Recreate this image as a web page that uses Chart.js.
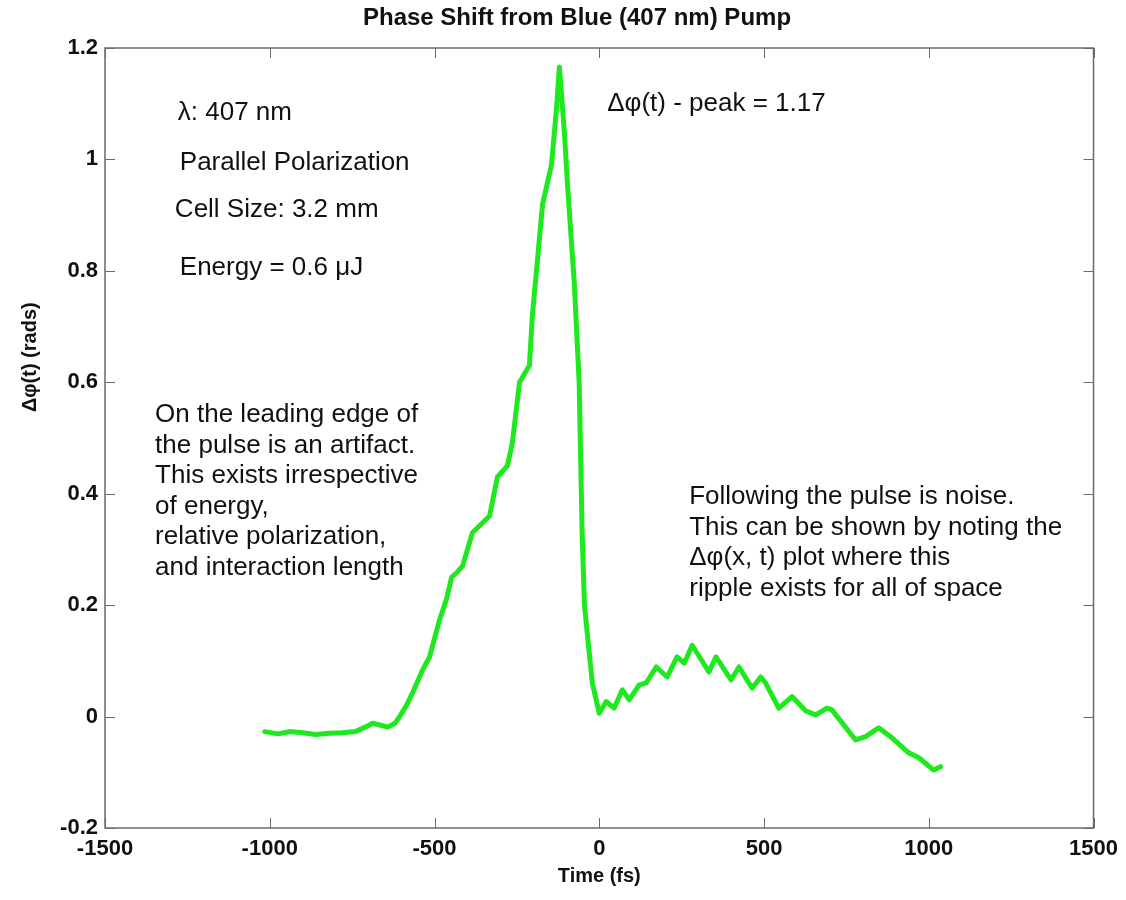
<!DOCTYPE html>
<html>
<head>
<meta charset="utf-8">
<script src="https://cdn.jsdelivr.net/npm/chart.js@4/dist/chart.umd.min.js"></script>
<style>
  html, body { margin: 0; background: #fff; }
  canvas { display: block; }
</style>
</head>
<body>
<canvas id="phaseChart" width="1126" height="900"></canvas>
<script>
const timeFs = [
  -1015, -975, -940, -900, -860, -820, -780, -740, -700, -688, -660, -642, -620, -606,
  -585, -567, -536, -515, -485, -464, -448, -430, -415, -385, -333, -309, -279, -264,
  -242, -212, -203, -172, -145, -130, -121, -106, -97, -76, -61, -52, -45, -21,
  0, 21, 45, 70, 91, 121, 142, 173, 206, 236, 258, 282, 333, 354, 400, 424, 464, 490,
  505, 545, 585, 627, 657, 691, 706, 778, 808, 848, 884, 939, 970, 1015, 1036
];
const phaseRad = [
  -0.027, -0.031, -0.027, -0.029, -0.032, -0.030, -0.029, -0.027, -0.016, -0.012, -0.016, -0.019, -0.012, 0.0,
  0.02, 0.042, 0.084, 0.107, 0.173, 0.21, 0.25, 0.26, 0.27, 0.33, 0.36, 0.43, 0.45, 0.49,
  0.60, 0.63, 0.72, 0.92, 0.99, 1.09, 1.166, 1.05, 0.96, 0.78, 0.60, 0.33, 0.20, 0.06,
  0.006, 0.027, 0.015, 0.048, 0.03, 0.057, 0.06, 0.089, 0.071, 0.107, 0.096, 0.128, 0.08, 0.107, 0.066, 0.089, 0.051, 0.071,
  0.06, 0.015, 0.036, 0.01, 0.003, 0.015, 0.012, -0.042, -0.036, -0.02, -0.036, -0.065, -0.074, -0.096, -0.09
];
const xTicks = [-1500, -1000, -500, 0, 500, 1000, 1500];
const yTicks = [-0.2, 0, 0.2, 0.4, 0.6, 0.8, 1, 1.2];

const titleText = "Phase Shift from Blue (407 nm) Pump";
const xTitle = "Time (fs)";
const yTitle = "\u0394\u03c6(t) (rads)";

// text blocks, anchored in data coordinates (fs, rad)
const notes = [
  { x: -1279, y: 1.084, lines: ["\u03bb: 407 nm"] },
  { x: -1273, y: 0.994, lines: ["Parallel Polarization"] },
  { x: -1288, y: 0.909, lines: ["Cell Size: 3.2 mm"] },
  { x: -1273, y: 0.805, lines: ["Energy = 0.6 \u03bcJ"] },
  { x: 24, y: 1.100, lines: ["\u0394\u03c6(t) - peak = 1.17"] },
  { x: -1348, y: 0.541, lines: [
    "On the leading edge of",
    "the pulse is an artifact.",
    "This exists irrespective",
    "of energy,",
    "relative polarization,",
    "and interaction length"
  ] },
  { x: 273, y: 0.394, lines: [
    "Following the pulse is noise.",
    "This can be shown by noting the",
    "\u0394\u03c6(x, t) plot where this",
    "ripple exists for all of space"
  ] }
];

const FONT = "'Liberation Sans', Arial, sans-serif";
const AXIS_COLOR = "#6a6a6a";

const frameAndNotes = {
  id: "frameAndNotes",
  afterDatasetsDraw(chart) {
    const { ctx, chartArea: a, scales } = chart;
    ctx.save();
    ctx.strokeStyle = AXIS_COLOR;
    ctx.lineWidth = 1.5;
    ctx.strokeRect(a.left, a.top, a.right - a.left, a.bottom - a.top);
    // inward ticks on all four sides
    ctx.lineWidth = 1;
    const len = 10;
    ctx.beginPath();
    xTicks.forEach((v) => {
      const px = Math.round(scales.x.getPixelForValue(v)) + 0.5;
      ctx.moveTo(px, a.bottom); ctx.lineTo(px, a.bottom - len);
      ctx.moveTo(px, a.top); ctx.lineTo(px, a.top + len);
    });
    yTicks.forEach((v) => {
      const py = Math.round(scales.y.getPixelForValue(v)) + 0.5;
      ctx.moveTo(a.left, py); ctx.lineTo(a.left + len, py);
      ctx.moveTo(a.right, py); ctx.lineTo(a.right - len, py);
    });
    ctx.stroke();

    ctx.fillStyle = "#111";
    ctx.textBaseline = "middle";

    // title and y label (MATLAB puts them a bit off-centre here)
    ctx.textAlign = "center";
    ctx.font = `bold 24px ${FONT}`;
    ctx.fillText(titleText, 577, 18);
    ctx.save();
    ctx.translate(30, scales.y.getPixelForValue(0.645));
    ctx.rotate(-Math.PI / 2);
    ctx.font = `bold 20px ${FONT}`;
    ctx.fillText(yTitle, 0, 0);
    ctx.restore();

    ctx.font = `26px ${FONT}`;
    ctx.textAlign = "left";
    notes.forEach((n) => {
      const px = scales.x.getPixelForValue(n.x);
      const py = scales.y.getPixelForValue(n.y);
      n.lines.forEach((line, i) => ctx.fillText(line, px, py + i * 30.5));
    });
    ctx.restore();
  }
};

new Chart(document.getElementById("phaseChart"), {
  type: "line",
  data: {
    datasets: [{
      data: timeFs.map((t, i) => ({ x: t, y: phaseRad[i] })),
      borderColor: "#1ee81e",
      borderWidth: 5,
      pointRadius: 0,
      tension: 0,
      borderJoinStyle: "round",
      borderCapStyle: "round",
      fill: false
    }]
  },
  options: {
    responsive: false,
    animation: false,
    devicePixelRatio: 1,
    layout: { padding: { left: 0, right: 31, top: 48, bottom: 0 } },
    plugins: {
      legend: { display: false },
      tooltip: { enabled: false },
      title: { display: false }
    },
    scales: {
      x: {
        type: "linear",
        min: -1500,
        max: 1500,
        afterBuildTicks: (s) => { s.ticks = xTicks.map((v) => ({ value: v })); },
        afterFit: (s) => { s.height = 72; },
        grid: { display: false, drawTicks: false },
        border: { display: false },
        ticks: {
          autoSkip: false,
          maxRotation: 0,
          padding: 8,
          color: "#111",
          font: { family: FONT, size: 22, weight: "bold" },
          callback: (v) => String(v)
        },
        title: {
          display: true,
          text: xTitle,
          color: "#111",
          font: { family: FONT, size: 20, weight: "bold", lineHeight: 1.2 },
          padding: { top: 0, bottom: 12 }
        }
      },
      y: {
        type: "linear",
        min: -0.2,
        max: 1.2,
        afterBuildTicks: (s) => { s.ticks = yTicks.map((v) => ({ value: v })); },
        afterFit: (s) => { s.width = 105; },
        grid: { display: false, drawTicks: false },
        border: { display: false },
        ticks: {
          autoSkip: false,
          padding: 7,
          color: "#111",
          font: { family: FONT, size: 22, weight: "bold" },
          callback: (v) => String(Number(v.toFixed(1)))
        },
        title: { display: false }
      }
    }
  },
  plugins: [frameAndNotes]
});
</script>
</body>
</html>
